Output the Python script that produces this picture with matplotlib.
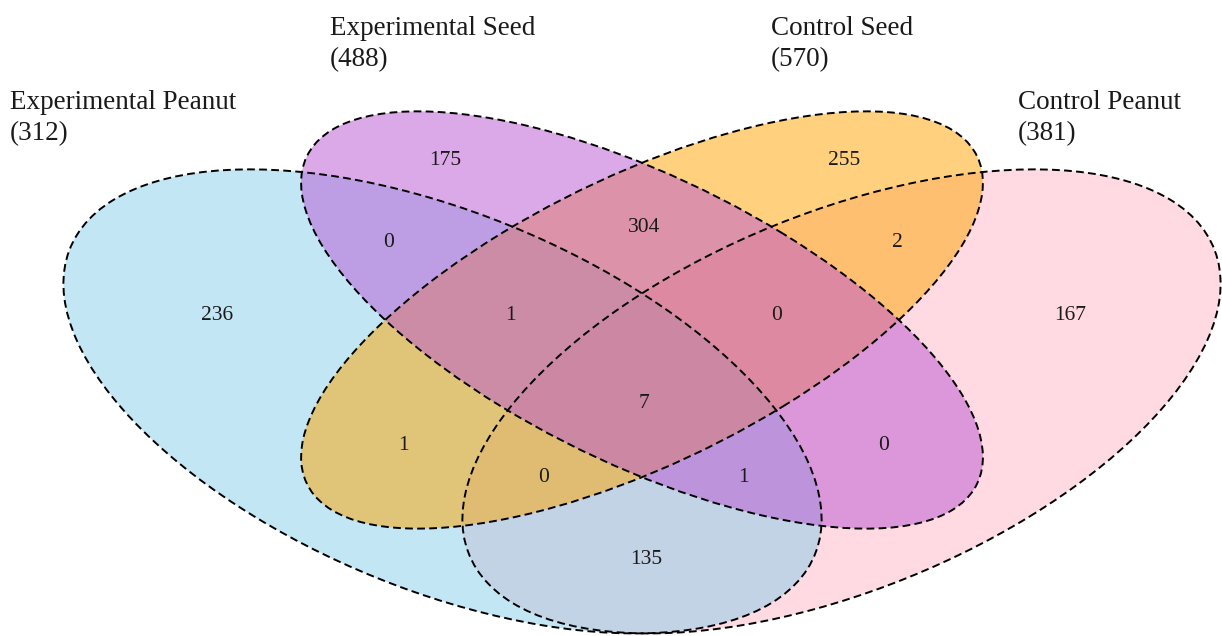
import matplotlib
matplotlib.use("Agg")
import matplotlib.pyplot as plt
from matplotlib.patches import Ellipse

# ---------------- data ----------------
set_names = ["Experimental Peanut", "Experimental Seed", "Control Seed", "Control Peanut"]
set_totals = [312, 488, 570, 381]
# A = Experimental Peanut, B = Experimental Seed, C = Control Seed, D = Control Peanut
region_keys = ["A", "B", "C", "D", "AB", "CD", "BC", "ABC", "BCD",
               "ABCD", "AC", "BD", "ACD", "ABD", "AD"]
region_counts = [236, 175, 255, 167, 0, 2, 304, 1, 0, 7, 1, 0, 0, 1, 135]

# ---------------- layout ----------------
W, H = 1222, 636
SX, SY = 1330.0, 814.0          # pixel per unit of the venn geometry
CX_PX, CY_PX = 642.0, 320.0     # pixel position of (0.5, 0.57)


def px2d(px, py):
    return 0.5 + (px - CX_PX) / SX, 0.57 - (py - CY_PX) / SY


# (x, y, semi-a, semi-b, rotation) in venn units (VennDiagram quad layout)
ellipses = {
    "A": (0.35, 0.47, 0.35, 0.20, 135),
    "B": (0.50, 0.57, 0.33, 0.15, 135),
    "C": (0.50, 0.57, 0.33, 0.15, 45),
    "D": (0.65, 0.47, 0.35, 0.20, 45),
}
fill_colors = {"A": "#87CEEB", "B": "#BA55D3", "C": "#FFA500", "D": "#FFB6C6"}
draw_order = ["D", "A", "C", "B"]

region_pos_px = {
    "A": (217, 315), "B": (445, 160), "C": (844, 160), "D": (1070, 315),
    "AB": (389, 243), "CD": (897, 243), "BC": (644, 227),
    "ABC": (510, 315), "BCD": (777, 315), "ABCD": (644, 403),
    "AC": (403, 445), "BD": (884, 445), "ACD": (544, 478), "ABD": (743, 478),
    "AD": (646, 560),
}
# label left x, baseline y of first line (pixels)
label_pos_px = [(10, 109), (330, 35), (771, 35), (1018, 109)]

plt.rcParams["font.family"] = ["Liberation Serif", "DejaVu Serif"]

fig = plt.figure(figsize=(W / 100, H / 100), dpi=100)
ax = fig.add_axes([0, 0, 1, 1])
x0, y0 = px2d(0, H)
x1, y1 = px2d(W, 0)
ax.set_xlim(x0, x1)
ax.set_ylim(y0, y1)
ax.axis("off")

for k in draw_order:
    x, y, a, b, rot = ellipses[k]
    ax.add_patch(Ellipse((x, y), 2 * a, 2 * b, angle=rot,
                         facecolor=fill_colors[k], alpha=0.5,
                         edgecolor="none", zorder=1))
for k in draw_order:
    x, y, a, b, rot = ellipses[k]
    ax.add_patch(Ellipse((x, y), 2 * a, 2 * b, angle=rot,
                         facecolor="none", edgecolor="black",
                         linewidth=1.4, linestyle=(0, (4, 2.2)), zorder=2))

for key, cnt in zip(region_keys, region_counts):
    px, py = region_pos_px[key]
    ax.text(*px2d(px, py), str(cnt), ha="center", va="center",
            fontsize=15.5, color="#1a1a1a", zorder=3)

for name, tot, (lx, ly) in zip(set_names, set_totals, label_pos_px):
    ax.text(*px2d(lx, ly), name, ha="left", va="baseline",
            fontsize=19.5, color="#1a1a1a", zorder=3)
    ax.text(*px2d(lx, ly + 31), f"({tot})", ha="left", va="baseline",
            fontsize=19.5, color="#1a1a1a", zorder=3)

fig.savefig("out.png", dpi=100, facecolor="white")
